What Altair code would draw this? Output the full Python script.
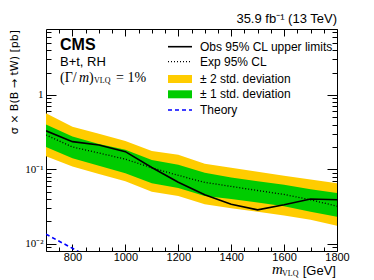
import altair as alt
import pandas as pd

# ---------------- data ----------------
masses = [700, 800, 900, 1000, 1100, 1200, 1300, 1400, 1500, 1600, 1700, 1800]
observed = [0.33, 0.236, 0.213, 0.173, 0.106, 0.067, 0.0455, 0.034, 0.0286, 0.0335, 0.040, 0.039]
expected = [0.29, 0.20, 0.166, 0.137, 0.105, 0.083, 0.067, 0.059, 0.052, 0.046, 0.039, 0.032]
plus2 = [0.57, 0.375, 0.30, 0.24, 0.177, 0.157, 0.119, 0.105, 0.093, 0.082, 0.073, 0.065]
plus1 = [0.40, 0.276, 0.22, 0.183, 0.134, 0.115, 0.090, 0.078, 0.069, 0.062, 0.054, 0.048]
minus1 = [0.20, 0.141, 0.112, 0.089, 0.065, 0.056, 0.044, 0.040, 0.036, 0.032, 0.027, 0.023]
minus2 = [0.15, 0.109, 0.087, 0.069, 0.050, 0.044, 0.034, 0.030, 0.027, 0.024, 0.021, 0.0175]

theory_mass = [700, 750, 800, 850, 900]
theory_xsec = [0.0135, 0.0108, 0.0087, 0.0070, 0.0056]

x_major = [800, 1000, 1200, 1400, 1600, 1800]
x_minor = [750, 850, 900, 950, 1050, 1100, 1150, 1250, 1300, 1350, 1450, 1500,
           1550, 1650, 1700, 1750]
y_major = [0.01, 0.1, 1]
y_minor = [0.008, 0.009, 0.02, 0.03, 0.04, 0.05, 0.06, 0.07, 0.08, 0.09,
           0.2, 0.3, 0.4, 0.5, 0.6, 0.7, 0.8, 0.9, 2, 3, 4, 5, 6, 7]

legend_labels = ["Obs 95% CL upper limits", "Exp 95% CL", "± 2 std. deviation",
                 "± 1 std. deviation", "Theory"]

df = pd.DataFrame({"m": masses, "obs": observed, "exp": expected,
                   "u2": plus2, "u1": plus1, "d1": minus1, "d2": minus2})
th = pd.DataFrame({"m": theory_mass, "xs": theory_xsec})

W, H = 291, 222
xs = alt.Scale(domain=[700, 1800], nice=False, zero=False)
ys = alt.Scale(type="log", domain=[0.008, 7.7], nice=False)

SANS = "Liberation Sans"
SERIF = "Liberation Serif"


def xax(values, orient, size, labels):
    kw = dict(values=values, orient=orient, offset=-size, tickSize=size, domain=False,
              grid=False, title=None, tickColor="black", labels=labels)
    if labels:
        kw.update(labelFont=SANS, labelFontSize=11, labelColor="black", labelPadding=0,
                  format="d", labelOverlap=False, labelBound=False, labelFlush=False)
    return alt.Axis(**kw)


def yax(values, orient, size, labels):
    kw = dict(values=values, orient=orient, offset=-size, tickSize=size, domain=False,
              grid=False, title=None, tickColor="black", labels=labels)
    if labels:
        kw.update(labelFont=SERIF, labelFontSize=11, labelColor="black", labelPadding=3,
                  labelExpr="datum.value > 0.5 ? '1' : (datum.value > 0.05 ? '10⁻¹' : '10⁻²')")
    return alt.Axis(**kw)


base = alt.Chart(df)

band2 = base.mark_area(color="#FFCC00", clip=True).encode(
    x=alt.X("m:Q", scale=xs, axis=xax(x_major, "bottom", 7, True)),
    y=alt.Y("d2:Q", scale=ys, axis=yax(y_major, "left", 10, True)),
    y2="u2:Q")

band1 = base.mark_area(color="#00CC00", clip=True).encode(
    x=alt.X("m:Q", scale=xs, axis=xax(x_minor, "bottom", 4, False)),
    y=alt.Y("d1:Q", scale=ys, axis=yax(y_minor, "left", 5, False)),
    y2="u1:Q")

exp_line = base.mark_line(color="black", strokeDash=[1, 2], strokeWidth=1.3, clip=True).encode(
    x=alt.X("m:Q", scale=xs, axis=xax(x_major, "top", 7, False)),
    y=alt.Y("exp:Q", scale=ys, axis=yax(y_major, "right", 10, False)))

obs_line = base.mark_line(color="black", strokeWidth=1.6, clip=True).encode(
    x=alt.X("m:Q", scale=xs, axis=xax(x_minor, "top", 4, False)),
    y=alt.Y("obs:Q", scale=ys, axis=yax(y_minor, "right", 5, False)))

theory = alt.Chart(th).mark_line(color="#0000FF", strokeDash=[4, 3], strokeWidth=1.6,
                                 clip=True).encode(
    x=alt.X("m:Q", scale=xs, axis=None),
    y=alt.Y("xs:Q", scale=ys, axis=None))

one = alt.Data(values=[{"a": 1}])


def txt(s, x, y, size=12, font=SANS, weight="normal", align="left", angle=0,
        baseline="middle", style="normal"):
    return alt.Chart(one).mark_text(
        text=s, font=font, fontSize=size, fontWeight=weight, align=align, angle=angle,
        baseline=baseline, fontStyle=style, color="black").encode(
        x=alt.value(x), y=alt.value(y))


rows = [17.7, 32.7, 50, 65.3, 81]
leg = []
leg.append(alt.Chart(one).mark_rule(color="black", strokeWidth=1.6).encode(
    x=alt.value(122), x2=alt.value(146), y=alt.value(rows[0])))
leg.append(alt.Chart(one).mark_rule(color="black", strokeWidth=1.3, strokeDash=[1, 2]).encode(
    x=alt.value(122), x2=alt.value(146), y=alt.value(rows[1])))
leg.append(alt.Chart(one).mark_rect(color="#FFCC00").encode(
    x=alt.value(122), x2=alt.value(146), y=alt.value(rows[2] - 4), y2=alt.value(rows[2] + 4)))
leg.append(alt.Chart(one).mark_rect(color="#00CC00").encode(
    x=alt.value(122), x2=alt.value(146), y=alt.value(rows[3] - 4), y2=alt.value(rows[3] + 4)))
leg.append(alt.Chart(one).mark_rule(color="#0000FF", strokeWidth=1.6, strokeDash=[4, 3]).encode(
    x=alt.value(122), x2=alt.value(146), y=alt.value(rows[4])))
for lab, r in zip(legend_labels, rows):
    leg.append(txt(lab, 154, r, size=12))

texts = [
    txt("CMS", 14, 16, size=16, weight="bold"),
    txt("B+t, RH", 14, 33, size=13),
    txt("(Γ/", 14, 49, size=14, font=SERIF),
    txt("m", 33, 49, size=14, font=SERIF, style="italic"),
    txt(")", 43, 49, size=14, font=SERIF),
    txt("VLQ", 48, 52, size=8, font=SERIF),
    txt("= 1%", 70, 49, size=14, font=SERIF),
    txt("35.9 fb⁻¹ (13 TeV)", W, -6, size=13, align="right", baseline="alphabetic"),
    txt("σ × B(B → tW) [pb]", -31, 1, size=11, font="DejaVu Sans", align="right", angle=270),
    txt("[GeV]", W - 1, 242, size=13, align="right"),
    txt("VLQ", 236, 245, size=8, font=SERIF),
    txt("m", 226, 240, size=15, font=SERIF, style="italic"),
]

chart = alt.layer(band2, band1, exp_line, obs_line, theory, *leg, *texts).resolve_axis(
    x="independent", y="independent"
).properties(
    width=W, height=H,
    autosize=alt.AutoSizeParams(type="none"),
    padding={"left": 38, "top": 21, "right": 29, "bottom": 29},
).configure_view(stroke="black", strokeWidth=1)

chart.save("out.html", embed_options={"renderer": "svg", "actions": False})
